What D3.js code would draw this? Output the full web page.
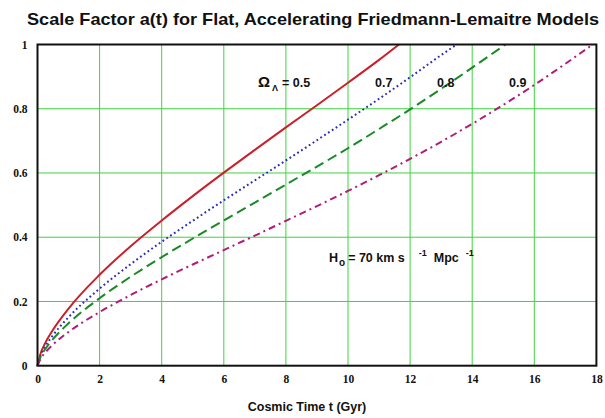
<!DOCTYPE html>
<html>
<head>
<meta charset="utf-8">
<script src="https://cdn.jsdelivr.net/npm/d3@7"></script>
<style>
  body { margin: 0; background: #fff; }
  svg { display: block; }
  .tick text { font-family: "Liberation Serif", "Times New Roman", serif; font-weight: bold; font-size: 11.5px; fill: #111; }
  .grid line { stroke: #3fd43f; stroke-width: 1; }
  .lbl { font-family: "Liberation Sans", Arial, sans-serif; font-weight: bold; fill: #111; }
</style>
</head>
<body>
<svg width="605" height="418"></svg>
<script>
const svg = d3.select('svg');
const width  = +svg.attr('width');
const height = +svg.attr('height');

// cosmic time (Gyr) sample points
const times = [0, 0.1, 0.25, 0.5, 1, 2, 3, 4, 5, 6, 7, 8, 9, 10, 11, 12, 13, 14, 15, 16, 17];

// a(t) for each Omega_Lambda, last point is where the curve leaves the frame at a = 1
const lambda05 = [0, 0.038, 0.071, 0.112, 0.178, 0.283, 0.372, 0.452, 0.528, 0.601, 0.672, 0.742, 0.811, 0.881, 0.952];
const lambda07 = [0, 0.032, 0.060, 0.095, 0.151, 0.240, 0.316, 0.386, 0.451, 0.515, 0.577, 0.639, 0.702, 0.766, 0.831, 0.898, 0.967];
const lambda08 = [0, 0.028, 0.052, 0.083, 0.132, 0.210, 0.277, 0.338, 0.396, 0.452, 0.508, 0.564, 0.620, 0.677, 0.737, 0.798, 0.862, 0.928];
const lambda09 = [0, 0.022, 0.041, 0.066, 0.105, 0.167, 0.220, 0.269, 0.315, 0.360, 0.405, 0.451, 0.497, 0.544, 0.593, 0.644, 0.697, 0.753, 0.812, 0.874, 0.940];
const endTimes = [11.64, 13.5, 15.07, 17.88];

const xTicks = [0, 2, 4, 6, 8, 10, 12, 14, 16, 18];
const yTicks = [0, 0.2, 0.4, 0.6, 0.8, 1];
const legendLabels = ['0.5', '0.7', '0.8', '0.9'];

const margin = { top: 44.5, right: 8.6, bottom: 52.3, left: 37.5 };
const innerWidth = width - margin.left - margin.right;
const innerHeight = height - margin.top - margin.bottom;

const g = svg.append('g')
  .attr('transform', `translate(${margin.left},${margin.top})`);

const xScale = d3.scaleLinear().domain([0, 18]).range([0, innerWidth]);
const yScale = d3.scaleLinear().domain([0, 1]).range([innerHeight, 0]);

// grid
g.append('g').attr('class', 'grid')
  .selectAll('line.v').data(xTicks.slice(1, -1)).enter()
  .append('line')
    .attr('x1', d => xScale(d)).attr('x2', d => xScale(d))
    .attr('y1', 0).attr('y2', innerHeight);
g.append('g').attr('class', 'grid')
  .selectAll('line.h').data(yTicks.slice(1, -1)).enter()
  .append('line')
    .attr('y1', d => yScale(d)).attr('y2', d => yScale(d))
    .attr('x1', 0).attr('x2', innerWidth);

// axes (labels only, frame drawn below)
const xAxisG = g.append('g')
  .attr('transform', `translate(0,${innerHeight})`)
  .call(d3.axisBottom(xScale).tickValues(xTicks).tickSize(0).tickPadding(9).tickFormat(d3.format('d')));
const yAxisG = g.append('g')
  .call(d3.axisLeft(yScale).tickValues(yTicks).tickSize(0).tickPadding(10).tickFormat(d => d));
xAxisG.select('.domain').remove();
yAxisG.select('.domain').remove();

// curves
const series = [
  { vals: lambda05, color: '#c9202c', dash: null,        w: 2 },
  { vals: lambda07, color: '#2c2cb4', dash: '1.8,2.8',   w: 2 },
  { vals: lambda08, color: '#198a26', dash: '10,5',      w: 2 },
  { vals: lambda09, color: '#b01c78', dash: '7,4,2,4',   w: 2 }
];

const line = d3.line()
  .x(d => xScale(d[0]))
  .y(d => yScale(d[1]))
  .curve(d3.curveMonotoneX);

series.forEach((s, i) => {
  const pts = s.vals.map((v, j) => [times[j], v]);
  pts.push([endTimes[i], 1]);
  g.append('path')
    .datum(pts)
    .attr('d', line)
    .attr('fill', 'none')
    .attr('stroke', s.color)
    .attr('stroke-width', s.w)
    .attr('stroke-dasharray', s.dash);
});

// frame
g.append('rect')
  .attr('width', innerWidth).attr('height', innerHeight)
  .attr('fill', 'none').attr('stroke', '#111').attr('stroke-width', 2);

// title and axis label
svg.append('text').attr('class', 'lbl')
  .attr('x', 27).attr('y', 25)
  .attr('font-size', 17)
  .attr('textLength', 572)
  .attr('lengthAdjust', 'spacingAndGlyphs')
  .text('Scale Factor a(t) for Flat, Accelerating Friedmann-Lemaitre Models');

svg.append('text').attr('class', 'lbl')
  .attr('x', 307).attr('y', 411)
  .attr('text-anchor', 'middle')
  .attr('font-size', 12.5)
  .text('Cosmic Time t (Gyr)');

// legend labels
const om = svg.append('text').attr('class', 'lbl').attr('x', 258).attr('y', 87).attr('font-size', 15);
om.append('tspan').text('Ω');
om.append('tspan').attr('font-size', 9).attr('dx', 2).attr('dy', 4).text('Λ');
om.append('tspan').attr('font-size', 12.5).attr('dx', 4).attr('dy', -4).text('= ' + legendLabels[0]);

const legendX = [375, 437, 509];
legendLabels.slice(1).forEach((t, i) => {
  svg.append('text').attr('class', 'lbl')
    .attr('x', legendX[i]).attr('y', 87)
    .attr('font-size', 12.5)
    .text(t);
});

// Hubble constant note
const h0 = svg.append('text').attr('class', 'lbl').attr('x', 329).attr('y', 262).attr('font-size', 12.5);
h0.append('tspan').text('H');
h0.append('tspan').attr('font-size', 10).attr('dx', 1).attr('dy', 4).text('o');
h0.append('tspan').attr('dx', 3).attr('dy', -4).text('= 70 km s');
h0.append('tspan').attr('font-size', 9).attr('dx', 14).attr('dy', -6).text('-1');
h0.append('tspan').attr('dx', 7).attr('dy', 6).text('Mpc');
h0.append('tspan').attr('font-size', 9).attr('dx', 7).attr('dy', -6).text('-1');
</script>
</body>
</html>
